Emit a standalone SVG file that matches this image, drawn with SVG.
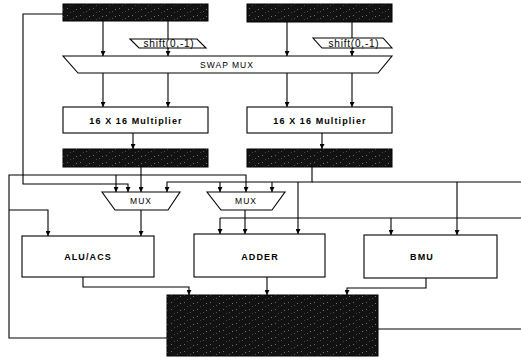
<svg xmlns="http://www.w3.org/2000/svg" width="521" height="358" viewBox="0 0 521 358">
<defs>
<marker id="ah" viewBox="0 0 8 8" refX="8" refY="4" markerWidth="5" markerHeight="5" orient="auto" markerUnits="userSpaceOnUse">
<path d="M0,0 L8,4 L0,8 z" fill="#000"/>
</marker>
<pattern id="noise" width="13" height="7" patternUnits="userSpaceOnUse">
<rect width="13" height="7" fill="#121212"/>
<rect x="2" y="1" width="1" height="1" fill="#6a6a6a"/>
<rect x="8" y="4" width="1" height="1" fill="#555"/>
<rect x="11" y="2" width="1" height="1" fill="#777"/>
<rect x="5" y="5" width="1" height="1" fill="#444"/>
</pattern>
<style>
.blk{fill:url(#noise);stroke:#000;stroke-width:1}
.box{fill:#fff;stroke:#000;stroke-width:1.1}
.ln{fill:none;stroke:#000;stroke-width:1.1}
.ar{marker-end:url(#ah)}
.lbl{font-family:"Liberation Sans",Arial,sans-serif;font-weight:bold;font-size:9px;letter-spacing:1.1px;text-anchor:middle;fill:#000}
.mux{font-family:"Liberation Sans",Arial,sans-serif;font-size:8.5px;letter-spacing:1px;text-anchor:middle;fill:#000}
.sh{font-family:"Liberation Sans",Arial,sans-serif;font-size:10px;letter-spacing:0.8px;text-anchor:middle;fill:#000}
</style>
</defs>
<rect width="521" height="358" fill="#fff"/>

<g id="top-left-bar"><rect class="blk" x="63" y="4" width="145" height="17"/></g>
<g id="top-right-bar"><rect class="blk" x="247" y="4" width="145" height="18"/></g>
<g id="shift-left"><polygon class="box" points="130,39 197,39 206,48 139,48"/><text class="sh" x="169" y="47">shift(0,-1)</text></g>
<g id="shift-right"><polygon class="box" points="313,38 383,38 392,48 322,48"/><text class="sh" x="354" y="46.5">shift(0,-1)</text></g>
<g id="swap-mux"><polygon class="box" points="63,56 392,56 378,73 78,73"/><text class="mux" x="227" y="67.5">SWAP MUX</text></g>
<g id="mult-left"><rect class="box" x="63" y="107" width="145" height="26"/><text class="lbl" x="136" y="123.5">16 X 16 Multiplier</text></g>
<g id="mult-right"><rect class="box" x="247" y="107" width="145" height="26"/><text class="lbl" x="320" y="123.5">16 X 16 Multiplier</text></g>
<g id="mid-left-bar"><rect class="blk" x="63" y="149" width="145" height="18"/></g>
<g id="mid-right-bar"><rect class="blk" x="247" y="149" width="145" height="18"/></g>
<g id="mux-left"><polygon class="box" points="102,192 180,192 168,210 115,210"/><text class="mux" x="141" y="204">MUX</text></g>
<g id="mux-right"><polygon class="box" points="207,192 285,192 272,210 221,210"/><text class="mux" x="246" y="204">MUX</text></g>
<g id="alu"><rect class="box" x="22" y="236" width="132" height="41"/><text class="lbl" x="88" y="260">ALU/ACS</text></g>
<g id="adder"><rect class="box" x="194" y="234" width="131" height="43"/><text class="lbl" x="260" y="260">ADDER</text></g>
<g id="bmu"><rect class="box" x="364" y="235" width="133" height="43"/><text class="lbl" x="422" y="260">BMU</text></g>
<g id="bottom-box"><rect class="blk" x="167" y="295" width="211" height="61"/></g>

<g id="connectors">
<path class="ln ar" d="M103,21 V56"/>
<path class="ln" d="M168,21 V39"/>
<path class="ln ar" d="M168,48 V56"/>
<path class="ln ar" d="M287,22 V56"/>
<path class="ln" d="M352,22 V38"/>
<path class="ln ar" d="M352,48 V56"/>
<path class="ln ar" d="M103,73 V107"/>
<path class="ln ar" d="M168,73 V107"/>
<path class="ln ar" d="M287,73 V107"/>
<path class="ln ar" d="M352,73 V107"/>
<path class="ln ar" d="M133,133 V149"/>
<path class="ln ar" d="M322,133 V149"/>
<path class="ln ar" d="M63,14 H23 V184 H128 V192"/>
<path class="ln ar" d="M167,338 H9 V175 H246 V192"/>
<path class="ln ar" d="M116,175 V192"/>
<path class="ln ar" d="M9,210 H48 V236"/>
<path class="ln ar" d="M141,167 V192"/>
<path class="ln ar" d="M312,167 V182 H167 V192"/>
<path class="ln" d="M312,182 H521"/>
<path class="ln ar" d="M220,182 V192"/>
<path class="ln ar" d="M272,182 V192"/>
<path class="ln ar" d="M298,182 V234"/>
<path class="ln ar" d="M457,182 V235"/>
<path class="ln ar" d="M141,210 V236"/>
<path class="ln ar" d="M245,210 V234"/>
<path class="ln" d="M220,218 H521"/>
<path class="ln ar" d="M220,218 V234"/>
<path class="ln ar" d="M391,218 V235"/>
<path class="ln ar" d="M83,277 V287 H189 V295"/>
<path class="ln ar" d="M267,277 V295"/>
<path class="ln ar" d="M426,278 V288 H347 V295"/>
<path class="ln" d="M378,329 H521"/>
</g>
</svg>
